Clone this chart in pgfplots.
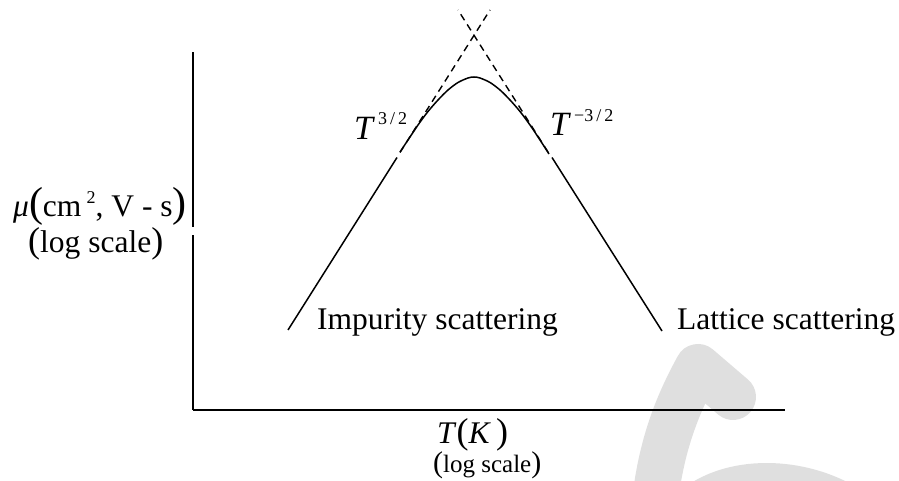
\documentclass[border=0pt]{standalone}
\usepackage{pgfplots}
\pgfplotsset{compat=1.18}
\usepackage{fontspec}
\setmainfont{Liberation Serif}

\newcommand\lbl{\fontsize{31.5}{36}\selectfont}
\newcommand\suptxt{\fontsize{18}{20}\selectfont}
\newcommand\bigpar[2]{{\fontsize{#1}{#1}\selectfont#2}}

\begin{document}
\begin{tikzpicture}[x=1pt,y=1pt]
\clip (0,0) rectangle (899,481);

% light grey brush strokes in the lower right
\begin{scope}[line width=46pt, line cap=round, line join=round, draw=gray!25]
  \draw (733,84) -- (698,114) .. controls (680,81) and (662,41) .. (655,-20);
  \draw (693,-29) .. controls (730,3) and (800,3) .. (850,-29);
\end{scope}

\begin{axis}[
  at={(193pt,71pt)}, anchor=south west,
  scale only axis, width=592pt, height=358pt,
  xmin=0, xmax=592, ymin=0, ymax=358,
  hide axis, clip=false,
]
% axes drawn as plain segments (the vertical one is broken beside its label)
\addplot[black, line width=1.8pt] coordinates {(0,0) (592,0)};
\addplot[black, line width=1.8pt] coordinates {(0,0) (0,175)};
\addplot[black, line width=1.8pt] coordinates {(0,183) (0,358)};

% impurity-scattering branch
\addplot[black, line width=1.5pt] coordinates {(95,80) (204,252.5)};
% lattice-scattering branch
\addplot[black, line width=1.5pt] coordinates {(359,252.5) (469,79)};

% asymptotes
\addplot[black, line width=1.4pt, dash pattern=on 7pt off 5pt] coordinates {(207,257.5) (297,400)};
\addplot[black, line width=1.4pt, dash pattern=on 7pt off 5pt] coordinates {(355,258) (265,400)};

% combined mobility near the maximum
\addplot[black, line width=1.5pt, smooth] coordinates {
  (207,258) (215,270) (225,285) (235,298.5) (245,310) (255,320)
  (265,327.5) (275,332) (281,333) (287,332) (297,327.5) (307,320)
  (317,310) (327,298.5) (337,285) (347,270) (356,256)
};
\end{axis}

% labels
\node[anchor=base west, inner sep=0] at (317,151) {\lbl Impurity scattering};
\node[anchor=base west, inner sep=0] at (677,151) {\lbl Lattice scattering};

\node[anchor=base west, inner sep=0] at (354,341)
  {\fontsize{34}{36}\selectfont\textit{T}\kern3pt\raisebox{15pt}{\suptxt 3\,/\,2}};
\node[anchor=base west, inner sep=0] at (550,345)
  {\fontsize{34}{36}\selectfont\textit{T}\kern3pt\raisebox{14pt}{\suptxt −3\,/\,2}};

\node[anchor=base west, inner sep=0] at (13,264)
  {\lbl\textit{μ}\bigpar{42}{(}cm\,\raisebox{13pt}{\suptxt 2}, V - s\bigpar{42}{)}};
\node[anchor=base west, inner sep=0] at (28,228)
  {\lbl\bigpar{36}{(}log scale\bigpar{36}{)}};

\node[anchor=base west, inner sep=0] at (437,37)
  {\lbl\textit{T}\bigpar{36}{(}\textit{K}\,\bigpar{36}{)}};
\node[anchor=base west, inner sep=0] at (433,8)
  {\fontsize{25}{28}\selectfont\bigpar{30}{(}log scale\bigpar{30}{)}};
\end{tikzpicture}
\end{document}
